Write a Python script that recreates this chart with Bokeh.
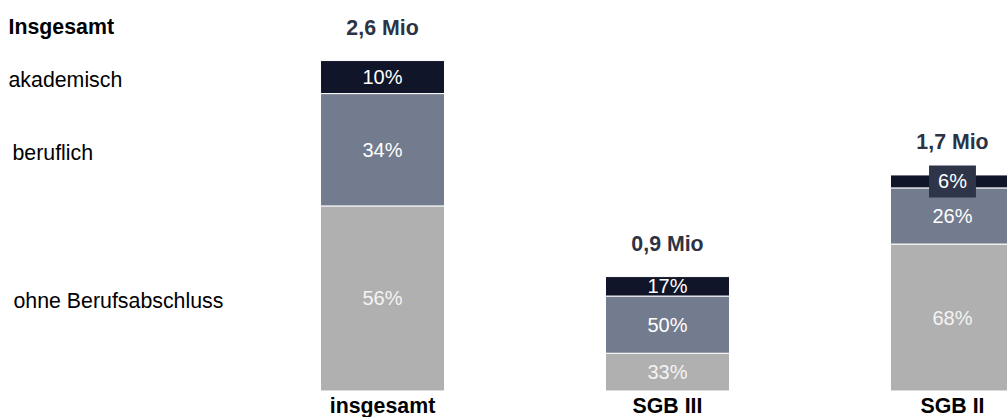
from bokeh.plotting import figure
from bokeh.models import ColumnDataSource, Range1d, Label
from bokeh.core.properties import value
from bokeh.embed import file_html
from bokeh.resources import INLINE

# ---------------- data ----------------
categories = ["insgesamt", "SGB III", "SGB II"]
totals_mio = [2.6, 0.9, 1.7]
total_labels = ["2,6 Mio", "0,9 Mio", "1,7 Mio"]
levels = ["ohne Berufsabschluss", "beruflich", "akademisch"]
share_ohne = [56, 33, 68]
share_beruflich = [34, 50, 26]
share_akademisch = [10, 17, 6]
legend_title = "Insgesamt"

# ---------------- style ----------------
FONT = "Liberation Sans"
colors = ["#b0b0b0", "#737b8e", "#10152a"]
label_colors = ["#f4f4f4", "#ffffff", "#ffffff"]
mio_color = "#2c3345"
box_color = "#2e3549"
legend_x = [13, 12, 8]

W, H = 1007, 417
x_idx = list(range(len(categories)))

shares = [share_ohne, share_beruflich, share_akademisch]
keys = ["ohne", "beruflich", "akademisch"]
data = {"x": x_idx, "cat": categories, "total": totals_mio, "tl": total_labels}
for k, s in zip(keys, shares):
    data[k] = [t * v / 100.0 for t, v in zip(totals_mio, s)]
src = ColumnDataSource(data)

p = figure(width=W, height=H, output_backend="svg", toolbar_location=None,
           x_range=Range1d(-1.3404, 2.1930), y_range=Range1d(-0.2088, 3.0725),
           min_border=0, outline_line_color=None)
p.axis.visible = False
p.grid.visible = False
p.background_fill_color = "white"
p.border_fill_color = "white"

p.vbar_stack(keys, x="x", width=0.435, source=src, color=colors,
             line_color="white", line_width=1)

# percentage labels inside segments
lx, ly, lt, lc, la = [], [], [], [], []
for j, t in enumerate(totals_mio):
    bottom = 0.0
    for i, s in enumerate(shares):
        seg = t * s[j] / 100.0
        lx.append(x_idx[j])
        ly.append(bottom + seg / 2.0)
        lt.append(f"{s[j]}%")
        lc.append(label_colors[i])
        la.append(1.0 if seg < 0.12 else 0.0)
        bottom += seg
psrc = ColumnDataSource(dict(x=lx, y=ly, t=lt, c=lc, a=la))
p.text(x="x", y="y", text="t", source=psrc, text_color="c",
       text_font=value(FONT), text_font_size="20px",
       text_align="center", text_baseline="middle",
       background_fill_color=box_color, background_fill_alpha="a",
       padding=(9, 5))

# totals above bars
p.text(x="x", y="total", text="tl", source=src, text_color=mio_color,
       text_font=value(FONT), text_font_size="16pt", text_font_style="bold",
       text_align="center", text_baseline="middle", y_offset=-33)

# category labels under bars
zsrc = ColumnDataSource(dict(x=x_idx, y=[0] * len(x_idx), t=categories))
p.text(x="x", y="y", text="t", source=zsrc, text_color="black",
       text_font=value(FONT), text_font_size="16pt", text_font_style="bold",
       text_align="center", text_baseline="middle", y_offset=15)

# legend-like labels at left, aligned with first bar's segments
bottom = 0.0
for i, s in enumerate(shares):
    seg = totals_mio[0] * s[0] / 100.0
    p.add_layout(Label(x=legend_x[i], x_units="screen", y=bottom + seg / 2.0,
                       text=levels[i], text_font=FONT, text_font_size="16pt",
                       text_color="black", text_baseline="middle", y_offset=-3))
    bottom += seg

p.add_layout(Label(x=8, x_units="screen", y=H - 26, y_units="screen",
                   text=legend_title, text_font=FONT, text_font_size="16pt",
                   text_font_style="bold", text_color="black",
                   text_baseline="middle"))

open("out.html", "w").write(file_html(p, INLINE))
